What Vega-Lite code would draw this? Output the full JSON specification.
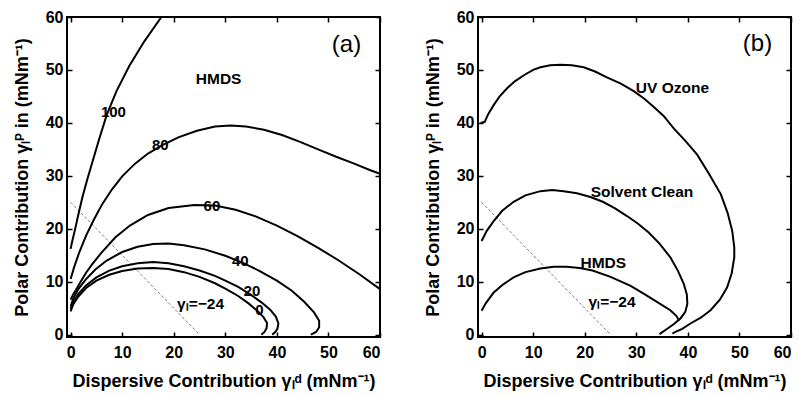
{
  "$schema": "https://vega.github.io/schema/vega-lite/v6.json",
  "padding": {"left": 12, "top": 8, "right": 5, "bottom": 5},
  "background": "#ffffff",
  "bounds": "flush",
  "spacing": 98,
  "config": {
    "font": "Liberation Sans",
    "view": {"stroke": "#000000", "strokeWidth": 2},
    "axis": {
      "grid": false, "domain": false,
      "tickColor": "#000000", "tickSize": -5, "tickWidth": 1.5,
      "labelFont": "Liberation Sans", "labelFontSize": 16, "labelFontWeight": "bold", "labelColor": "#000000",
      "titleFont": "Liberation Sans", "titleFontSize": 18, "titleFontWeight": "bold", "titleColor": "#000000"
    },
    "axisBottom": {"labelPadding": 12, "titlePadding": 12},
    "axisLeft": {"labelPadding": 9, "titlePadding": 14},
    "text": {"color": "#000000", "fontWeight": "bold", "align": "center", "baseline": "middle", "font": "Liberation Sans"}
  },
  "datasets": {
    "ref": [{"x": 0, "y": 25}, {"x": 25, "y": 0}],
    "a_curves": [
      {"c":"100","i":0,"x":0,"y":16.2},{"c":"100","i":1,"x":0.3,"y":17.6},{"c":"100","i":2,"x":0.8,"y":19.6},{"c":"100","i":3,"x":1.5,"y":22.7},{"c":"100","i":4,"x":2.3,"y":26},{"c":"100","i":5,"x":3.2,"y":29.2},{"c":"100","i":6,"x":4.2,"y":32.5},{"c":"100","i":7,"x":5.5,"y":36.8},{"c":"100","i":8,"x":7,"y":41.5},{"c":"100","i":9,"x":8.9,"y":46},{"c":"100","i":10,"x":11.4,"y":50.8},{"c":"100","i":11,"x":14.3,"y":55.4},{"c":"100","i":12,"x":17.6,"y":60},
      {"c":"80","i":0,"x":0,"y":10.5},{"c":"80","i":1,"x":0.7,"y":12.8},{"c":"80","i":2,"x":1.7,"y":15.6},{"c":"80","i":3,"x":3,"y":18.7},{"c":"80","i":4,"x":4.5,"y":21.7},{"c":"80","i":5,"x":6.1,"y":24.6},{"c":"80","i":6,"x":8,"y":27.4},{"c":"80","i":7,"x":10,"y":29.9},{"c":"80","i":8,"x":12.5,"y":32.3},{"c":"80","i":9,"x":15,"y":34.2},{"c":"80","i":10,"x":17.8,"y":35.8},{"c":"80","i":11,"x":21,"y":37.3},{"c":"80","i":12,"x":24.5,"y":38.5},{"c":"80","i":13,"x":28,"y":39.3},{"c":"80","i":14,"x":31,"y":39.5},{"c":"80","i":15,"x":34,"y":39.3},{"c":"80","i":16,"x":37.5,"y":38.7},{"c":"80","i":17,"x":41,"y":37.7},{"c":"80","i":18,"x":44.5,"y":36.4},{"c":"80","i":19,"x":48,"y":35},{"c":"80","i":20,"x":51.5,"y":33.6},{"c":"80","i":21,"x":55,"y":32.3},{"c":"80","i":22,"x":58,"y":31.1},{"c":"80","i":23,"x":60,"y":30.4},
      {"c":"60","i":0,"x":0,"y":6.6},{"c":"60","i":1,"x":0.5,"y":7.6},{"c":"60","i":2,"x":1,"y":8.4},{"c":"60","i":3,"x":2,"y":10.1},{"c":"60","i":4,"x":3,"y":11.7},{"c":"60","i":5,"x":4.2,"y":13.3},{"c":"60","i":6,"x":6,"y":15.5},{"c":"60","i":7,"x":8.7,"y":18.4},{"c":"60","i":8,"x":11.5,"y":20.6},{"c":"60","i":9,"x":15,"y":22.6},{"c":"60","i":10,"x":19,"y":23.9},{"c":"60","i":11,"x":24,"y":24.5},{"c":"60","i":12,"x":28,"y":24.4},{"c":"60","i":13,"x":32,"y":23.6},{"c":"60","i":14,"x":36,"y":22.3},{"c":"60","i":15,"x":40,"y":20.6},{"c":"60","i":16,"x":44,"y":18.6},{"c":"60","i":17,"x":48,"y":16.4},{"c":"60","i":18,"x":52,"y":14},{"c":"60","i":19,"x":56,"y":11.4},{"c":"60","i":20,"x":60,"y":8.6},
      {"c":"40","i":0,"x":0,"y":5.3},{"c":"40","i":1,"x":0.5,"y":6.8},{"c":"40","i":2,"x":1.5,"y":8.6},{"c":"40","i":3,"x":3,"y":10.5},{"c":"40","i":4,"x":4.8,"y":12.3},{"c":"40","i":5,"x":7,"y":14},{"c":"40","i":6,"x":10,"y":15.6},{"c":"40","i":7,"x":13,"y":16.6},{"c":"40","i":8,"x":16,"y":17.1},{"c":"40","i":9,"x":19,"y":17.2},{"c":"40","i":10,"x":22,"y":16.9},{"c":"40","i":11,"x":26,"y":16.1},{"c":"40","i":12,"x":30,"y":14.9},{"c":"40","i":13,"x":33.3,"y":13.6},{"c":"40","i":14,"x":36.5,"y":12.1},{"c":"40","i":15,"x":40,"y":10.2},{"c":"40","i":16,"x":42.9,"y":8.3},{"c":"40","i":17,"x":45.3,"y":6.2},{"c":"40","i":18,"x":47.2,"y":4.2},{"c":"40","i":19,"x":48.2,"y":2.6},{"c":"40","i":20,"x":48.2,"y":1.4},{"c":"40","i":21,"x":47.6,"y":0.5},{"c":"40","i":22,"x":46.6,"y":0},
      {"c":"20","i":0,"x":0,"y":4.8},{"c":"20","i":1,"x":0.5,"y":6.1},{"c":"20","i":2,"x":1.5,"y":7.7},{"c":"20","i":3,"x":3,"y":9.3},{"c":"20","i":4,"x":5,"y":10.8},{"c":"20","i":5,"x":7.5,"y":12.1},{"c":"20","i":6,"x":10,"y":12.9},{"c":"20","i":7,"x":13,"y":13.5},{"c":"20","i":8,"x":16,"y":13.7},{"c":"20","i":9,"x":19,"y":13.5},{"c":"20","i":10,"x":22,"y":12.9},{"c":"20","i":11,"x":25,"y":12.1},{"c":"20","i":12,"x":28,"y":11.1},{"c":"20","i":13,"x":30,"y":10.2},{"c":"20","i":14,"x":32.5,"y":9},{"c":"20","i":15,"x":35,"y":7.5},{"c":"20","i":16,"x":37,"y":6.1},{"c":"20","i":17,"x":38.7,"y":4.7},{"c":"20","i":18,"x":39.8,"y":3.4},{"c":"20","i":19,"x":40.3,"y":2.1},{"c":"20","i":20,"x":40.1,"y":1.1},{"c":"20","i":21,"x":39.7,"y":0.5},{"c":"20","i":22,"x":39.1,"y":0},
      {"c":"0","i":0,"x":0,"y":4.4},{"c":"0","i":1,"x":0.5,"y":5.7},{"c":"0","i":2,"x":1.5,"y":7.2},{"c":"0","i":3,"x":3,"y":8.8},{"c":"0","i":4,"x":5,"y":10.2},{"c":"0","i":5,"x":7.5,"y":11.3},{"c":"0","i":6,"x":10,"y":12},{"c":"0","i":7,"x":13,"y":12.5},{"c":"0","i":8,"x":16,"y":12.6},{"c":"0","i":9,"x":19,"y":12.4},{"c":"0","i":10,"x":22,"y":11.8},{"c":"0","i":11,"x":25,"y":10.9},{"c":"0","i":12,"x":28,"y":9.7},{"c":"0","i":13,"x":30,"y":8.7},{"c":"0","i":14,"x":32.5,"y":7.3},{"c":"0","i":15,"x":34.5,"y":5.9},{"c":"0","i":16,"x":36.2,"y":4.5},{"c":"0","i":17,"x":37.4,"y":3.3},{"c":"0","i":18,"x":38.1,"y":2.2},{"c":"0","i":19,"x":38,"y":1.2},{"c":"0","i":20,"x":37.6,"y":0.5},{"c":"0","i":21,"x":37,"y":0}
    ],
    "b_curves": [
      {"c":"UV","i":0,"x":-0.2,"y":40},{"c":"UV","i":1,"x":0.6,"y":40.2},{"c":"UV","i":2,"x":1.3,"y":41.7},{"c":"UV","i":3,"x":2.3,"y":43.3},{"c":"UV","i":4,"x":3.5,"y":45},{"c":"UV","i":5,"x":4.9,"y":46.5},{"c":"UV","i":6,"x":6.5,"y":47.9},{"c":"UV","i":7,"x":8.2,"y":49},{"c":"UV","i":8,"x":10,"y":50},{"c":"UV","i":9,"x":11.4,"y":50.5},{"c":"UV","i":10,"x":13.3,"y":50.9},{"c":"UV","i":11,"x":15.3,"y":51},{"c":"UV","i":12,"x":17.5,"y":50.9},{"c":"UV","i":13,"x":19.8,"y":50.5},{"c":"UV","i":14,"x":22,"y":49.7},{"c":"UV","i":15,"x":24.3,"y":48.6},{"c":"UV","i":16,"x":27,"y":47.4},{"c":"UV","i":17,"x":29.5,"y":46},{"c":"UV","i":18,"x":31.5,"y":44.6},{"c":"UV","i":19,"x":33.4,"y":43},{"c":"UV","i":20,"x":35.3,"y":41.3},{"c":"UV","i":21,"x":37.3,"y":38.9},{"c":"UV","i":22,"x":39.6,"y":36.5},{"c":"UV","i":23,"x":41.8,"y":34},{"c":"UV","i":24,"x":44.2,"y":30.2},{"c":"UV","i":25,"x":46.4,"y":26.5},{"c":"UV","i":26,"x":47.7,"y":23},{"c":"UV","i":27,"x":48.6,"y":19.6},{"c":"UV","i":28,"x":49,"y":16.5},{"c":"UV","i":29,"x":49,"y":14.6},{"c":"UV","i":30,"x":48.5,"y":11.6},{"c":"UV","i":31,"x":47.6,"y":8.9},{"c":"UV","i":32,"x":46.2,"y":6.6},{"c":"UV","i":33,"x":44.4,"y":4.6},{"c":"UV","i":34,"x":42.5,"y":3.2},{"c":"UV","i":35,"x":40.5,"y":2.1},{"c":"UV","i":36,"x":38.9,"y":1.1},{"c":"UV","i":37,"x":37.6,"y":0.5},{"c":"UV","i":38,"x":37,"y":0.2},
      {"c":"SC","i":0,"x":0,"y":17.7},{"c":"SC","i":1,"x":1,"y":19.6},{"c":"SC","i":2,"x":2.3,"y":21.4},{"c":"SC","i":3,"x":4,"y":23.4},{"c":"SC","i":4,"x":6.2,"y":25.1},{"c":"SC","i":5,"x":8.5,"y":26.3},{"c":"SC","i":6,"x":11.4,"y":27.1},{"c":"SC","i":7,"x":13.7,"y":27.3},{"c":"SC","i":8,"x":15.9,"y":27.1},{"c":"SC","i":9,"x":18.5,"y":26.7},{"c":"SC","i":10,"x":21.1,"y":26},{"c":"SC","i":11,"x":23.5,"y":25.1},{"c":"SC","i":12,"x":25.8,"y":23.9},{"c":"SC","i":13,"x":28.2,"y":22.4},{"c":"SC","i":14,"x":30.4,"y":20.9},{"c":"SC","i":15,"x":32.4,"y":19.3},{"c":"SC","i":16,"x":34.5,"y":17.2},{"c":"SC","i":17,"x":36.6,"y":14.6},{"c":"SC","i":18,"x":38.1,"y":12},{"c":"SC","i":19,"x":39.2,"y":9.6},{"c":"SC","i":20,"x":39.8,"y":7.6},{"c":"SC","i":21,"x":39.9,"y":5.8},{"c":"SC","i":22,"x":39.5,"y":4.3},{"c":"SC","i":23,"x":38.6,"y":3.1},{"c":"SC","i":24,"x":37.3,"y":2},{"c":"SC","i":25,"x":36,"y":1.1},{"c":"SC","i":26,"x":34.5,"y":0.1},
      {"c":"HMDS","i":0,"x":0,"y":4.5},{"c":"HMDS","i":1,"x":0.8,"y":5.9},{"c":"HMDS","i":2,"x":2.3,"y":7.9},{"c":"HMDS","i":3,"x":4.2,"y":9.5},{"c":"HMDS","i":4,"x":6.2,"y":10.8},{"c":"HMDS","i":5,"x":8.5,"y":11.8},{"c":"HMDS","i":6,"x":11.4,"y":12.5},{"c":"HMDS","i":7,"x":14,"y":12.8},{"c":"HMDS","i":8,"x":16.5,"y":12.8},{"c":"HMDS","i":9,"x":19,"y":12.6},{"c":"HMDS","i":10,"x":21.5,"y":12.1},{"c":"HMDS","i":11,"x":25,"y":10.9},{"c":"HMDS","i":12,"x":28.9,"y":9.2},{"c":"HMDS","i":13,"x":31.5,"y":7.7},{"c":"HMDS","i":14,"x":34,"y":6.2},{"c":"HMDS","i":15,"x":36.6,"y":4.6},{"c":"HMDS","i":16,"x":37.8,"y":3.5},{"c":"HMDS","i":17,"x":38.3,"y":2.6}
    ],
    "a_text": [
      {"t":"100","k":"lbl","x":8.3,"y":42.1},
      {"t":"80","k":"lbl","x":17.4,"y":35.8},
      {"t":"60","k":"lbl","x":27.4,"y":24.3},
      {"t":"40","k":"lbl","x":32.9,"y":13.9},
      {"t":"20","k":"lbl","x":35.2,"y":8.3},
      {"t":"0","k":"lbl","x":36.6,"y":4.6},
      {"t":"HMDS","k":"name","x":28.7,"y":48.2},
      {"t":"(a)","k":"tag","x":53.5,"y":54.8},
      {"t":"γₗ=−24","k":"gam","x":25.2,"y":5.8}
    ],
    "b_text": [
      {"t":"UV Ozone","k":"name","x":37,"y":46.6},
      {"t":"Solvent Clean","k":"name","x":31.1,"y":26.9},
      {"t":"HMDS","k":"name","x":23.6,"y":13.6},
      {"t":"(b)","k":"tag","x":53.5,"y":54.9},
      {"t":"γₗ=−24","k":"gam","x":25.3,"y":6.1}
    ]
  },
  "hconcat": [
    {
      "width": 313, "height": 320,
      "resolve": {"axis": {"x": "independent", "y": "independent"}},
      "layer": [
        {
          "data": {"name": "ref"},
          "mark": {"type": "line", "color": "#808080", "strokeWidth": 1, "strokeDash": [3, 2]},
          "encoding": {
            "x": {"field": "x", "type": "quantitative", "scale": {"domain": [-0.7, 60], "nice": false, "zero": false},
                  "axis": {"orient": "bottom", "values": [0,10,20,30,40,50,60], "title": "Dispersive Contribution γₗᵈ (mNm⁻¹)"}},
            "y": {"field": "y", "type": "quantitative", "scale": {"domain": [-0.45, 60], "nice": false, "zero": false},
                  "axis": {"orient": "left", "values": [0,10,20,30,40,50,60], "title": "Polar Contribution γₗᴾ in (mNm⁻¹)"}}
          }
        },
        {
          "data": {"name": "a_curves"},
          "mark": {"type": "line", "color": "#000000", "strokeWidth": 2},
          "encoding": {
            "x": {"field": "x", "type": "quantitative", "scale": {"domain": [-0.7, 60], "nice": false, "zero": false}, "axis": null},
            "y": {"field": "y", "type": "quantitative", "scale": {"domain": [-0.45, 60], "nice": false, "zero": false}, "axis": null},
            "detail": {"field": "c", "type": "nominal"},
            "order": {"field": "i", "type": "quantitative"}
          }
        },
        {
          "data": {"name": "a_text"},
          "transform": [{"filter": "datum.k === 'lbl'"}],
          "mark": {"type": "text", "fontSize": 15},
          "encoding": {
            "x": {"field": "x", "type": "quantitative", "scale": {"domain": [-0.7, 60], "nice": false, "zero": false},
                  "axis": {"orient": "top", "values": [0,10,20,30,40,50,60], "labels": false, "title": null}},
            "y": {"field": "y", "type": "quantitative", "scale": {"domain": [-0.45, 60], "nice": false, "zero": false},
                  "axis": {"orient": "right", "values": [0,10,20,30,40,50,60], "labels": false, "title": null}},
            "text": {"field": "t", "type": "nominal"}
          }
        },
        {
          "data": {"name": "a_text"},
          "transform": [{"filter": "datum.k === 'name' || datum.k === 'gam'"}],
          "mark": {"type": "text", "fontSize": 15.5},
          "encoding": {
            "x": {"field": "x", "type": "quantitative", "scale": {"domain": [-0.7, 60], "nice": false, "zero": false}, "axis": null},
            "y": {"field": "y", "type": "quantitative", "scale": {"domain": [-0.45, 60], "nice": false, "zero": false}, "axis": null},
            "text": {"field": "t", "type": "nominal"}
          }
        },
        {
          "data": {"name": "a_text"},
          "transform": [{"filter": "datum.k === 'tag'"}],
          "mark": {"type": "text", "fontSize": 24, "fontWeight": "normal"},
          "encoding": {
            "x": {"field": "x", "type": "quantitative", "scale": {"domain": [-0.7, 60], "nice": false, "zero": false}, "axis": null},
            "y": {"field": "y", "type": "quantitative", "scale": {"domain": [-0.45, 60], "nice": false, "zero": false}, "axis": null},
            "text": {"field": "t", "type": "nominal"}
          }
        }
      ]
    },
    {
      "width": 313, "height": 320,
      "resolve": {"axis": {"x": "independent", "y": "independent"}},
      "layer": [
        {
          "data": {"name": "ref"},
          "mark": {"type": "line", "color": "#808080", "strokeWidth": 1, "strokeDash": [3, 2]},
          "encoding": {
            "x": {"field": "x", "type": "quantitative", "scale": {"domain": [-0.7, 60], "nice": false, "zero": false},
                  "axis": {"orient": "bottom", "values": [0,10,20,30,40,50,60], "title": "Dispersive Contribution γₗᵈ (mNm⁻¹)"}},
            "y": {"field": "y", "type": "quantitative", "scale": {"domain": [-0.45, 60], "nice": false, "zero": false},
                  "axis": {"orient": "left", "values": [0,10,20,30,40,50,60], "title": "Polar Contribution γₗᴾ in (mNm⁻¹)"}}
          }
        },
        {
          "data": {"name": "b_curves"},
          "mark": {"type": "line", "color": "#000000", "strokeWidth": 2},
          "encoding": {
            "x": {"field": "x", "type": "quantitative", "scale": {"domain": [-0.7, 60], "nice": false, "zero": false}, "axis": null},
            "y": {"field": "y", "type": "quantitative", "scale": {"domain": [-0.45, 60], "nice": false, "zero": false}, "axis": null},
            "detail": {"field": "c", "type": "nominal"},
            "order": {"field": "i", "type": "quantitative"}
          }
        },
        {
          "data": {"name": "b_text"},
          "transform": [{"filter": "datum.k === 'name' || datum.k === 'gam'"}],
          "mark": {"type": "text", "fontSize": 15.5},
          "encoding": {
            "x": {"field": "x", "type": "quantitative", "scale": {"domain": [-0.7, 60], "nice": false, "zero": false},
                  "axis": {"orient": "top", "values": [0,10,20,30,40,50,60], "labels": false, "title": null}},
            "y": {"field": "y", "type": "quantitative", "scale": {"domain": [-0.45, 60], "nice": false, "zero": false},
                  "axis": {"orient": "right", "values": [0,10,20,30,40,50,60], "labels": false, "title": null}},
            "text": {"field": "t", "type": "nominal"}
          }
        },
        {
          "data": {"name": "b_text"},
          "transform": [{"filter": "datum.k === 'tag'"}],
          "mark": {"type": "text", "fontSize": 24, "fontWeight": "normal"},
          "encoding": {
            "x": {"field": "x", "type": "quantitative", "scale": {"domain": [-0.7, 60], "nice": false, "zero": false}, "axis": null},
            "y": {"field": "y", "type": "quantitative", "scale": {"domain": [-0.45, 60], "nice": false, "zero": false}, "axis": null},
            "text": {"field": "t", "type": "nominal"}
          }
        }
      ]
    }
  ]
}
